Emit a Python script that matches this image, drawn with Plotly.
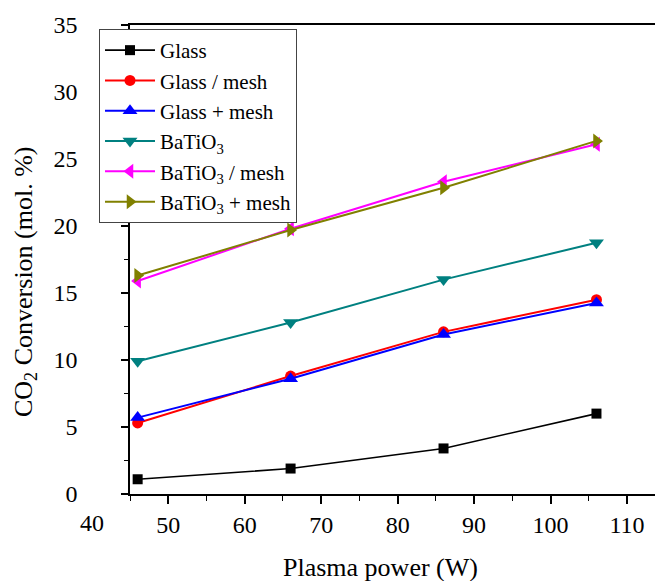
import plotly.graph_objects as go

# ---- data ----
plasma_power = [46.0, 66.0, 86.0, 106.0]
glass = [1.1, 1.9, 3.4, 6.0]
glass_slash_mesh = [5.3, 8.8, 12.1, 14.5]
glass_plus_mesh = [5.7, 8.6, 11.9, 14.25]
batio3 = [9.9, 12.8, 16.0, 18.75]
batio3_slash_mesh = [15.9, 19.8, 23.3, 26.1]
batio3_plus_mesh = [16.3, 19.7, 22.85, 26.35]

series_names = ["Glass", "Glass / mesh", "Glass + mesh", "BaTiO<sub>3</sub>",
                "BaTiO<sub>3</sub> / mesh", "BaTiO<sub>3</sub> + mesh"]
series_values = [glass, glass_slash_mesh, glass_plus_mesh, batio3,
                 batio3_slash_mesh, batio3_plus_mesh]
series_colors = ["#000000", "#FF0000", "#0000FF", "#008080", "#FF00FF", "#808000"]
series_symbols = ["square", "circle", "triangle-up", "triangle-down",
                  "triangle-left", "triangle-right"]
series_sizes = [10, 11, 13, 13, 13, 13]

x_tick_values = [40, 50, 60, 70, 80, 90, 100, 110]
y_tick_values = [0, 5, 10, 15, 20, 25, 30, 35]

FONT = "Liberation Serif, Times New Roman, serif"

# page body has an 8px margin: the figure is shifted by it, so compensate
PAGE_OFF = 8
W, H = 663 - PAGE_OFF, 581 - PAGE_OFF
ML, MT, MB = 130 - PAGE_OFF, 25 - PAGE_OFF, 581 - 494
PW, PH = W - ML, H - MT - MB

fig = go.Figure()
for name, vals, col, sym, sz in zip(series_names, series_values, series_colors,
                                    series_symbols, series_sizes):
    fig.add_trace(go.Scatter(
        x=plasma_power, y=vals, name=name, mode="lines+markers",
        line=dict(color=col, width=2 if col != "#000000" else 1.6),
        marker=dict(symbol=sym, size=sz, color=col, line=dict(width=0)),
    ))

x_range = [45, 114.7]

fig.update_layout(
    width=W, height=H,
    margin=dict(l=ML, r=0, t=MT, b=MB, autoexpand=False),
    paper_bgcolor="white", plot_bgcolor="white",
    font=dict(family=FONT, color="black", size=24),
    showlegend=True,
    legend=dict(
        x=(99 - 130) / PW, y=(494 - 29) / PH, xanchor="left", yanchor="top",
        bgcolor="white", bordercolor="#444444", borderwidth=1,
        font=dict(family=FONT, size=21, color="black"),
        itemwidth=50, tracegroupgap=0,
    ),
    xaxis=dict(
        range=x_range, tickvals=[v for v in x_tick_values if v >= x_range[0]],
        ticktext=[str(v) for v in x_tick_values if v >= x_range[0]],
        showline=True, linecolor="black", linewidth=1.6, mirror=True,
        ticks="outside", ticklen=8, tickwidth=1.5, tickcolor="black",
        minor=dict(ticks="outside", ticklen=5, tickwidth=1.2, dtick=10, tick0=45,
                   tickcolor="black"),
        showgrid=False, zeroline=False,
        tickfont=dict(family=FONT, size=24),
    ),
    yaxis=dict(
        range=[0, 35], tickvals=y_tick_values,
        showline=True, linecolor="black", linewidth=1.6, mirror=False,
        ticks="outside", ticklen=7, tickwidth=1.5, tickcolor="black",
        minor=dict(ticks="outside", ticklen=4, tickwidth=1.2, dtick=5, tick0=2.5,
                   tickcolor="black"),
        ticklabelstandoff=39,
        showgrid=False, zeroline=False,
        tickfont=dict(family=FONT, size=24),
    ),
)

# "40" tick label sits left of the axis start in the reference
x40_paper = (x_tick_values[0] - x_range[0]) / (x_range[1] - x_range[0])
fig.add_annotation(x=x40_paper, xref="paper", y=0, yref="paper",
                   xanchor="center", yanchor="top", yshift=-14, text=str(x_tick_values[0]),
                   showarrow=False, font=dict(family=FONT, size=24))

fig.add_annotation(x=(380 - 130) / PW, xref="paper", y=(494 - 567) / PH, yref="paper",
                   xanchor="center", yanchor="middle", text="Plasma power (W)",
                   showarrow=False, font=dict(family=FONT, size=26))
fig.add_annotation(x=(25 - 130) / PW, xref="paper", y=(494 - 282) / PH, yref="paper",
                   xanchor="center", yanchor="middle", textangle=-90,
                   text="CO<sub>2</sub> Conversion (mol. %)",
                   showarrow=False, font=dict(family=FONT, size=26))

fig.write_html("out.html")
